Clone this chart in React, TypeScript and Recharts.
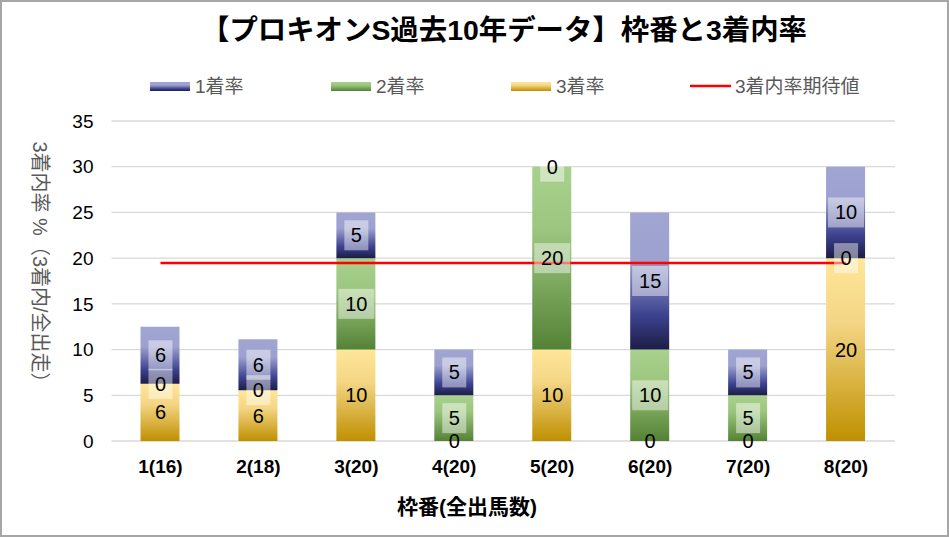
import React from "react";
import {
  ComposedChart,
  Bar,
  Line,
  XAxis,
  YAxis,
  CartesianGrid,
  LabelList,
} from "recharts";

const categories = ["1(16)", "2(18)", "3(20)", "4(20)", "5(20)", "6(20)", "7(20)", "8(20)"];
const firstRate = [6.25, 5.56, 5, 5, 0, 15, 5, 10];
const secondRate = [0, 0, 10, 5, 20, 10, 5, 0];
const thirdRate = [6.25, 5.56, 10, 0, 10, 0, 0, 20];
const expected = [19.48, 19.48, 19.48, 19.48, 19.48, 19.48, 19.48, 19.48];
const yTicks = [0, 5, 10, 15, 20, 25, 30, 35];

// label anchors sit at the middle of each stacked segment
const data = categories.map((name, i) => ({
  name,
  first: firstRate[i],
  second: secondRate[i],
  third: thirdRate[i],
  expected: expected[i],
  thirdMid: thirdRate[i] / 2,
  secondMid: thirdRate[i] + secondRate[i] / 2,
  firstMid: thirdRate[i] + secondRate[i] + firstRate[i] / 2,
}));

const FONT = "'Liberation Sans', Arial, 'Noto Sans CJK JP', sans-serif";

const BoxLabel = (props: any) => {
  const { x, y, value, boxed } = props;
  const text = String(Math.round(Number(value)));
  const cx = Number(x);
  const cy = Number(y);
  const w = text.length > 1 ? 36 : 24;
  return (
    <g>
      {boxed && (
        <rect x={cx - w / 2} y={cy - 15} width={w} height={30} fill="#ffffff" fillOpacity={0.45} />
      )}
      <text
        x={cx}
        y={cy}
        textAnchor="middle"
        dominantBaseline="central"
        fontSize={20}
        fontFamily={FONT}
        fill="#000"
      >
        {text}
      </text>
    </g>
  );
};

const legendItems = [
  { label: "1着率", fill: "url(#gBlue)", x: 150 },
  { label: "2着率", fill: "url(#gGreen)", x: 331 },
  { label: "3着率", fill: "url(#gGold)", x: 511 },
];

export default function App() {
  return (
    <div style={{ position: "absolute", left: 0, top: 0, width: 949, height: 537, background: "#fff" }}>
      <svg width={949} height={537} style={{ position: "absolute", left: 0, top: 0 }}>
        <rect x={1} y={1} width={947} height={535} fill="#fff" stroke="#a6a6a6" strokeWidth={2} />
      </svg>
      <div style={{ position: "absolute", left: 0, top: 0 }}>
        <ComposedChart
          width={949}
          height={537}
          data={data}
          margin={{ top: 121, right: 54, bottom: 66, left: 50 }}
          barSize={39}
        >
          <defs>
            <linearGradient id="gBlue" x1="0" y1="0" x2="0" y2="1">
              <stop offset="0%" stopColor="#a0a5d2" />
              <stop offset="35%" stopColor="#9da1cf" />
              <stop offset="75%" stopColor="#3d4290" />
              <stop offset="100%" stopColor="#1c1d45" />
            </linearGradient>
            <linearGradient id="gGreen" x1="0" y1="0" x2="0" y2="1">
              <stop offset="0%" stopColor="#a9d18e" />
              <stop offset="35%" stopColor="#9cc67f" />
              <stop offset="100%" stopColor="#548235" />
            </linearGradient>
            <linearGradient id="gGold" x1="0" y1="0" x2="0" y2="1">
              <stop offset="0%" stopColor="#ffe699" />
              <stop offset="35%" stopColor="#f4d685" />
              <stop offset="100%" stopColor="#bf9000" />
            </linearGradient>
          </defs>
          <CartesianGrid vertical={false} stroke="#d9d9d9" strokeWidth={1.3} />
          <XAxis
            dataKey="name"
            height={30}
            axisLine={false}
            tickLine={false}
            tickSize={0}
            tickMargin={19}
            tick={{ fontSize: 19, fontWeight: "bold", fill: "#000", fontFamily: FONT }}
          />
          <YAxis
            width={61.5}
            domain={[0, 35]}
            ticks={yTicks}
            axisLine={false}
            tickLine={false}
            tickSize={0}
            tickMargin={18}
            tick={{ fontSize: 19, fill: "#000", fontFamily: FONT }}
          />
          <Bar dataKey="third" stackId="s" fill="url(#gGold)" isAnimationActive={false} />
          <Bar dataKey="second" stackId="s" fill="url(#gGreen)" isAnimationActive={false} />
          <Bar dataKey="first" stackId="s" fill="url(#gBlue)" isAnimationActive={false} />
          <Line
            dataKey="expected"
            stroke="#ff0000"
            strokeWidth={2.5}
            dot={false}
            activeDot={false}
            isAnimationActive={false}
          />
          <Line dataKey="thirdMid" stroke="none" strokeWidth={0} dot={false} activeDot={false} isAnimationActive={false}>
            <LabelList dataKey="third" content={(p: any) => <BoxLabel {...p} boxed={false} />} />
          </Line>
          <Line dataKey="secondMid" stroke="none" strokeWidth={0} dot={false} activeDot={false} isAnimationActive={false}>
            <LabelList dataKey="second" content={(p: any) => <BoxLabel {...p} boxed={true} />} />
          </Line>
          <Line dataKey="firstMid" stroke="none" strokeWidth={0} dot={false} activeDot={false} isAnimationActive={false}>
            <LabelList dataKey="first" content={(p: any) => <BoxLabel {...p} boxed={true} />} />
          </Line>
          <text
            x={504}
            y={40}
            textAnchor="middle"
            fontSize={28}
            fontWeight="bold"
            fontFamily={FONT}
            fill="#000"
            textLength={606}
            lengthAdjust="spacingAndGlyphs"
          >
            【プロキオンS過去10年データ】枠番と3着内率
          </text>
          {legendItems.map((it) => (
            <g key={it.label}>
              <rect x={it.x} y={82} width={40} height={9} fill={it.fill} />
              <text x={it.x + 45} y={93} fontSize={19} fontFamily={FONT} fill="#595959">
                {it.label}
              </text>
            </g>
          ))}
          <line x1={690} y1={86} x2={731} y2={86} stroke="#ff0000" strokeWidth={2.5} />
          <text x={735} y={93} fontSize={19} fontFamily={FONT} fill="#595959">
            3着内率期待値
          </text>
          <text
            x={40}
            y={267}
            transform="rotate(90 40 267)"
            textAnchor="middle"
            dominantBaseline="central"
            fontSize={20}
            fontFamily={FONT}
            fill="#595959"
          >
            3着内率 %（3着内/全出走）
          </text>
          <text
            x={467}
            y={514}
            textAnchor="middle"
            fontSize={21}
            fontWeight="bold"
            fontFamily={FONT}
            fill="#000"
          >
            枠番(全出馬数)
          </text>
        </ComposedChart>
      </div>
    </div>
  );
}
